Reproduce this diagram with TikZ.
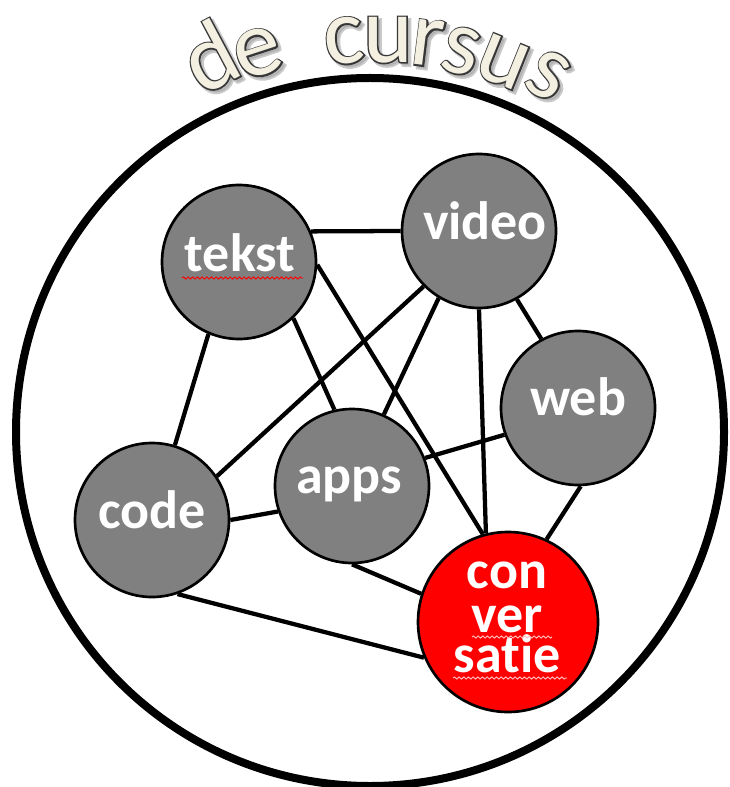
\documentclass[tikz,border=0pt]{standalone}
\usepackage{fontspec}
\setmainfont{Carlito}[RawFeature={-liga;-clig;-dlig;-calt}]
\newfontfamily\titlefont{Carlito}[RawFeature={-liga;-clig;-dlig;-calt}]
\newfontfamily\titleedgefont{Carlito}[FakeBold=3]
\newfontfamily\titleshadowfont{Carlito}[FakeBold=4]
\usetikzlibrary{backgrounds,decorations.pathmorphing}
\definecolor{cream}{RGB}{243,240,226}
\definecolor{nodegray}{RGB}{128,128,128}
\definecolor{convred}{RGB}{255,0,0}
\definecolor{outlinegray}{RGB}{55,55,55}
\definecolor{shadowgray}{RGB}{160,160,160}
\newcommand\titleletter[5]{%
  \node[titleltr, font=\fontsize{71}{71}\selectfont\titleshadowfont, text=shadowgray, opacity=0.55, rotate=#3] (#4-shadow) at (#1+3,#2+3) {#5};
  \node[titleltr, font=\fontsize{71}{71}\selectfont\titleedgefont, text=outlinegray, rotate=#3] (#4-edge) at (#1,#2) {#5};
  \node[titleltr, font=\fontsize{71}{71}\selectfont\titlefont, text=cream, rotate=#3] (#4) at (#1,#2) {#5};}
\begin{document}
\begin{tikzpicture}[x=0.75pt,y=-0.75pt,
  topic/.style={circle, draw=black, line width=2pt, fill=nodegray, inner sep=0pt, minimum size=115.5pt},
  hub/.style={topic, fill=convred, minimum size=135pt},
  link/.style={line width=3.2pt, draw=black},
  labeltext/.style={text=white, font=\fontsize{40.5}{40.5}\selectfont\bfseries, anchor=base, inner sep=0pt},
  squiggle/.style={line width=0.7pt, decorate, decoration={snake, amplitude=0.8pt, segment length=3.5pt}},
  titleltr/.style={inner sep=0pt, anchor=center}]
\useasboundingbox (0,0) rectangle (730,787);
\begin{scope}[on background layer]
  \fill[white] (0,0) rectangle (730,787);
\end{scope}

% outer circle
\node[circle, draw=black, line width=6pt, minimum size=531pt, inner sep=0pt] (course) at (370,432) {};

% title letters
\titleletter{209}{56}{28}{t1}{d}
\titleletter{258}{53}{18}{t2}{e}
\titleletter{344}{41}{6}{t3}{c}
\titleletter{388}{40}{0}{t4}{u}
\titleletter{428}{43}{-7}{t5}{r}
\titleletter{461}{51}{-14}{t6}{s}
\titleletter{503}{62}{-22}{t7}{u}
\titleletter{548}{75}{-30}{t8}{s}

% topic circles
\node[topic] (tekst) at (239,262) {};
\node[topic] (video) at (479,231) {};
\node[topic] (web)   at (578,408) {};
\node[topic] (apps)  at (352,486) {};
\node[topic] (code)  at (152,520) {};
\node[hub]   (conv)  at (508,622) {};

% labels
\node[labeltext] (tekst-l) at (240,272) {tekst};
\node[labeltext] (video-l) at (485,240) {video};
\node[labeltext] (web-l)   at (578,415) {web};
\node[labeltext] (apps-l)  at (349,493) {apps};
\node[labeltext] (code-l)  at (152,528) {code};
\node[labeltext] (conv-l1) at (507,588) {con};
\node[labeltext] (conv-l2) at (507,632) {ver};
\node[labeltext] (conv-l3) at (507,672) {sat\kern0pt ie};

% spell-check squiggles
\draw[squiggle, red] (182,278) -- (303,278);
\draw[squiggle, red!25!white] (472,637) -- (552,637);
\draw[squiggle, red!25!white] (453,678) -- (567,678);

% connectors
\begin{scope}[on background layer]
  \draw[link] (tekst.23)  -- (video.180);
  \draw[link] (tekst.247) -- (code.73);
  \draw[link] (tekst.314) -- (apps.103);
  \draw[link] (tekst.-2)  -- (conv.106);
  \draw[link] (video.225) -- (code.34);
  \draw[link] (video.239) -- (apps.66);
  \draw[link] (video.270) -- (conv.104);
  \draw[link] (video.299) -- (web.118);
  \draw[link] (web.200)   -- (apps.21);
  \draw[link] (web.272)   -- (conv.65);
  \draw[link] (code.0)    -- (apps.199);
  \draw[link] (apps.270)  -- (conv.162);
  \draw[link] (code.289)  -- (conv.203);
\end{scope}
\end{tikzpicture}
\end{document}
